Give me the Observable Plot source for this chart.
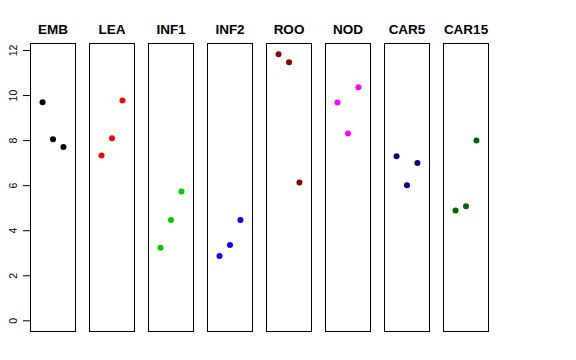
<!DOCTYPE html>
<html>
<head>
<meta charset="utf-8">
<script src="https://cdn.jsdelivr.net/npm/d3@7"></script>
<script src="https://cdn.jsdelivr.net/npm/@observablehq/plot@0.6"></script>
<style>
  html, body { margin: 0; padding: 0; background: #fff; }
</style>
</head>
<body>
<div id="chart"></div>
<script>
const panels = ["EMB", "LEA", "INF1", "INF2", "ROO", "NOD", "CAR5", "CAR15"];
const panelColors = ["black", "red", "#00CD00", "blue", "#8B0000", "magenta", "#000080", "#006400"];
const rep1 = [9.70, 7.34, 3.24, 2.88, 11.83, 9.69, 7.31, 4.90];
const rep2 = [8.06, 8.10, 4.48, 3.37, 11.48, 8.31, 6.02, 5.09];
const rep3 = [7.71, 9.78, 5.74, 4.48, 6.14, 10.37, 7.01, 8.00];
const yTicks = [0, 2, 4, 6, 8, 10, 12];

const data = [];
panels.forEach((p, i) => {
  [rep1, rep2, rep3].forEach((rep, j) => {
    data.push({panel: p, rep: j + 1, value: rep[i]});
  });
});

const chart = Plot.plot({
  width: 576,
  height: 360,
  marginLeft: 29,
  marginRight: 88,
  marginTop: 43,
  marginBottom: 29,
  style: {fontFamily: "'Liberation Sans', Arial, Helvetica, sans-serif", background: "#fff", color: "black"},
  fx: {domain: panels, paddingInner: 0.24, paddingOuter: 0, axis: null},
  x: {domain: [-0.15, 4.15], axis: null},
  y: {domain: [-0.475, 12.31], axis: null},
  color: {domain: panels, range: panelColors},
  marks: [
    Plot.frame({stroke: "black", strokeWidth: 1}),
    Plot.axisFx({anchor: "top", tickSize: 0, tickPadding: 9.5, fontSize: 13.5, fontWeight: "bold", label: null}),
    Plot.axisY({ticks: yTicks, tickSize: 7, tickPadding: 7, tickRotate: -90, fontSize: 10.5, label: null, stroke: "black"}),
    Plot.dot(data, {fx: "panel", x: "rep", y: "value", fill: "panel", r: 3, stroke: null})
  ]
});
document.getElementById("chart").appendChild(chart);
</script>
</body>
</html>
